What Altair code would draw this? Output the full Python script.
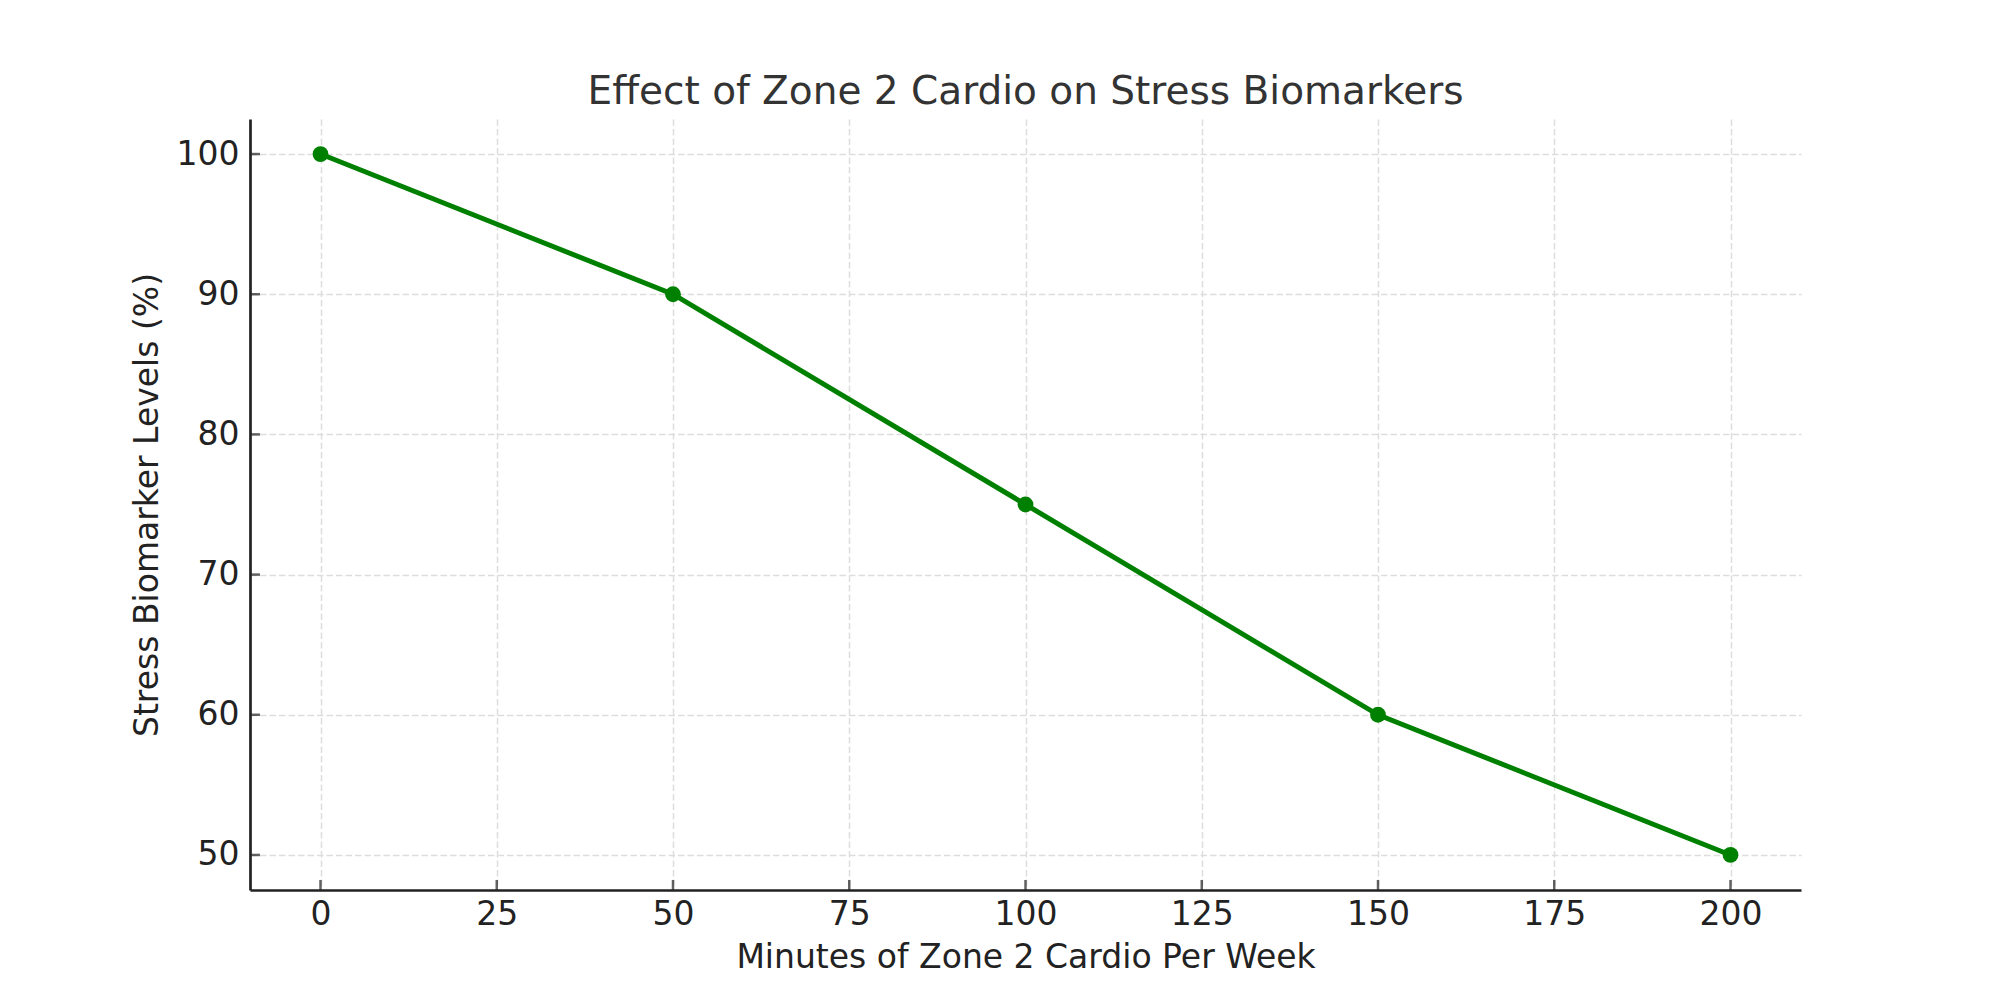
import altair as alt
import pandas as pd

minutes = [0, 50, 100, 150, 200]
stress = [100, 90, 75, 60, 50]
x_ticks = [0, 25, 50, 75, 100, 125, 150, 175, 200]
y_ticks = [50, 60, 70, 80, 90, 100]
x_domain = [-10, 210]
y_domain = [47.5, 102.5]

df = pd.DataFrame({"minutes": minutes, "stress": stress})
xt = pd.DataFrame({"minutes": x_ticks})
yt = pd.DataFrame({"stress": y_ticks})

FONT = "DejaVu Sans"
DARK = "#222222"
GREEN = "#008000"

x = alt.X(
    "minutes:Q",
    scale=alt.Scale(domain=x_domain, nice=False, zero=False),
    axis=alt.Axis(
        title="Minutes of Zone 2 Cardio Per Week",
        values=x_ticks,
        labelPadding=8,
        titlePadding=10,
    ),
)
y = alt.Y(
    "stress:Q",
    scale=alt.Scale(domain=y_domain, nice=False, zero=False),
    axis=alt.Axis(
        title="Stress Biomarker Levels (%)",
        values=y_ticks,
        labelPadding=11,
        titlePadding=12,
    ),
)

line = alt.Chart(df).mark_line(color=GREEN, strokeWidth=5).encode(x=x, y=y)
pts = alt.Chart(df).mark_point(filled=True, color=GREEN, size=250, opacity=1).encode(x=x, y=y)

# inward-pointing tick marks (matplotlib style "in")
xtick_marks = alt.Chart(xt).mark_tick(
    orient="vertical", color=DARK, size=10, thickness=2.5, yOffset=-5
).encode(x=alt.X("minutes:Q"), y=alt.datum(y_domain[0]))
ytick_marks = alt.Chart(yt).mark_tick(
    orient="horizontal", color=DARK, size=10, thickness=2.5, xOffset=5
).encode(y=alt.Y("stress:Q"), x=alt.datum(x_domain[0]))

chart = (
    alt.layer(line, pts, xtick_marks, ytick_marks)
    .properties(
        width=1551,
        height=771,
        title=alt.TitleParams(
            "Effect of Zone 2 Cardio on Stress Biomarkers",
            font=FONT,
            fontSize=39,
            fontWeight="normal",
            color="#333333",
            offset=7,
            anchor="middle",
        ),
        autosize=alt.AutoSizeParams(type="none"),
        padding={"left": 242, "top": 111, "right": 190, "bottom": 100},
    )
    .configure_view(stroke=None)
    .configure_axis(
        labelFont=FONT,
        titleFont=FONT,
        labelFontSize=33,
        titleFontSize=33,
        titleFontWeight="normal",
        labelColor=DARK,
        titleColor=DARK,
        domainColor=DARK,
        domainWidth=2.7,
        tickSize=0,
        tickOpacity=0,
        gridColor="#dddddd",
        gridDash=[6.5, 3],
        gridWidth=1.5,
    )
)

chart.save("out.html", embed_options={"renderer": "svg", "actions": False})
